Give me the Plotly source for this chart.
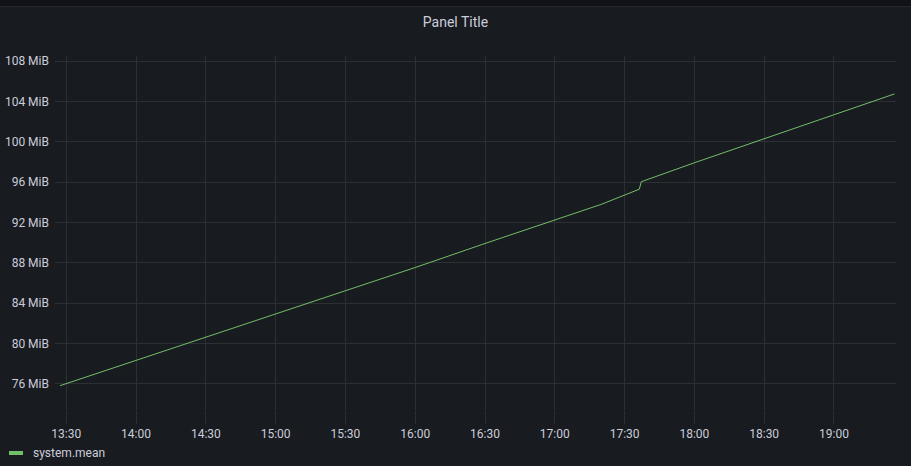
import plotly.graph_objects as go

# ---- data ----
day = "2023-01-01 "
times = ["13:27:20", "14:00:00", "14:30:00", "15:00:00", "15:30:00", "16:00:00",
         "16:30:00", "17:00:00", "17:20:00", "17:36:20", "17:37:10",
         "18:00:00", "18:30:00", "19:00:00", "19:26:00"]
mem_mib = [75.83, 78.32, 80.62, 82.91, 85.23, 87.54,
           89.92, 92.22, 93.80, 95.30, 96.04,
           97.92, 100.30, 102.69, 104.74]
series_name = "system.mean"
y_ticks = [76, 80, 84, 88, 92, 96, 100, 104, 108]
y_ticktext = [f"{v} MiB" for v in y_ticks]
x_range = ["13:25:10", "19:26:40"]
y_range = [73.42, 108.5]
title_text = "Panel Title"

# ---- style ----
W, H = 911, 466
ML, MR, MT, MB = 55, 15, 56, 56
PANEL_BG = "#181b1f"
TOP_BG = "#111217"
GRID = "#2c2f34"
TEXT = "#ccccdc"
GREEN = "#73BF69"
FONT = "Roboto, Inter, sans-serif"

pw = W - ML - MR
ph = H - MT - MB


def px_x(p):
    return (p - ML) / pw


def px_y(p):
    return (H - MB - p) / ph


fig = go.Figure()
fig.add_trace(go.Scatter(
    x=[day + t for t in times], y=mem_mib, mode="lines", name=series_name,
    line=dict(color=GREEN, width=1), showlegend=False, hoverinfo="skip",
))

fig.update_layout(
    width=W, height=H,
    margin=dict(l=ML, r=MR, t=MT, b=MB, autoexpand=False),
    paper_bgcolor=PANEL_BG, plot_bgcolor=PANEL_BG,
    font=dict(family=FONT, size=12, color=TEXT),
    title=dict(text=title_text, x=0.5, xanchor="center", xref="container",
               y=1 - 22 / H, yanchor="middle", yref="container",
               font=dict(family=FONT, size=14, color=TEXT, weight="normal")),
    xaxis=dict(
        type="date", range=[day + x_range[0], day + x_range[1]],
        tick0=day + "13:30:00", dtick=30 * 60 * 1000, tickformat="%H:%M",
        showgrid=True, gridcolor=GRID, gridwidth=1, zeroline=False,
        showline=False, ticks="outside", ticklen=13, tickcolor=GRID, tickwidth=1,
        tickfont=dict(family=FONT, size=12, color=TEXT), automargin=False,
    ),
    yaxis=dict(
        range=y_range, tickvals=y_ticks, ticktext=y_ticktext,
        showgrid=True, gridcolor=GRID, gridwidth=1, zeroline=False,
        showline=False, ticks="", ticklabelstandoff=5,
        tickfont=dict(family=FONT, size=12, color=TEXT), automargin=False,
    ),
    showlegend=False,
    hovermode=False,
)

# top header band
fig.add_shape(type="rect", xref="paper", yref="paper",
              x0=px_x(0), x1=px_x(W), y0=px_y(6), y1=px_y(0),
              fillcolor=TOP_BG, line=dict(width=0), layer="below")
fig.add_shape(type="line", xref="paper", yref="paper",
              x0=px_x(0), x1=px_x(W), y0=px_y(6.5), y1=px_y(6.5),
              line=dict(color="#25272c", width=1))

# legend
fig.add_shape(type="rect", xref="paper", yref="paper",
              x0=px_x(9), x1=px_x(23), y0=px_y(455), y1=px_y(451),
              fillcolor=GREEN, line=dict(width=0))
fig.add_annotation(text=series_name, xref="paper", yref="paper",
                   x=px_x(31), y=px_y(453), xanchor="left", yanchor="middle",
                   showarrow=False, font=dict(family=FONT, size=12, color=TEXT))

fig.write_html(
    "out.html",
    config={"displayModeBar": False},
    post_script="document.body.style.margin='0';document.body.style.overflow='hidden';"
                "document.body.style.background='#181b1f';",
)
